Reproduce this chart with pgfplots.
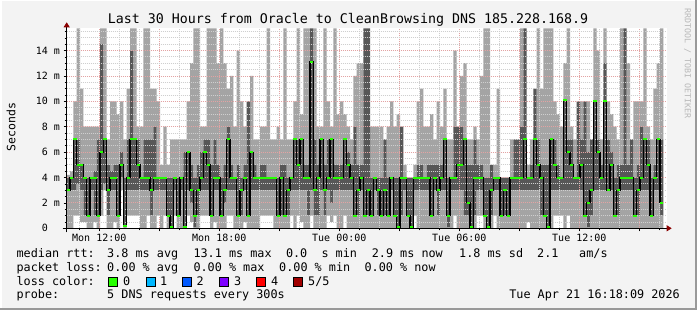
\documentclass[border=0pt]{standalone}
\usepackage{fontspec}
\setmainfont{DejaVu Sans Mono}
\usepackage{pgfplots}
\pgfplotsset{compat=1.18}
\usepackage{pgfplotstable}
\usetikzlibrary{arrows.meta}
\definecolor{bg}{HTML}{F3F3F3}
\definecolor{smokeL}{HTML}{A4A4A4}
\definecolor{smokeD}{HTML}{575757}
\definecolor{gridminor}{HTML}{CFCFCF}
\definecolor{gridmajor}{HTML}{E3A3A3}
\definecolor{medgreen}{HTML}{26FF00}
\definecolor{arrowred}{HTML}{8B0000}
\definecolor{loss1}{HTML}{00B8FF}
\definecolor{loss2}{HTML}{0059FF}
\definecolor{loss3}{HTML}{7E00FF}
\definecolor{loss4}{HTML}{FF0000}
\definecolor{loss5}{HTML}{A10000}
\newcommand\legfont{\fontsize{11.8}{14}\selectfont}

\pgfplotstableread{
i lo ilo ihi hi med
0 0 3 4 4.2 3
1 0 3 4 4.5 4
2 1 3 7 10 7
3 1 3.5 7 15.75 5
4 0.5 3 5 11 5
5 0.5 1 4 8 4
6 0 1 4 8 1
7 0 3 4 8 4
8 0.5 1 4.5 8 4
9 0 1 7 8 1
10 1 3 14.5 15.75 6
11 3 3.5 7 15.75 7
12 0 1 5 7 3
13 0 3 4.5 10 4
14 0.5 3 5 10 4
15 0 1 5 9 1
16 3 4 6 10 5
17 0 0.2 4 7 0.2
18 1 3 7 11 4
19 1 3 14 15.75 7
20 1 3 7 15.75 7
21 1 3 7 8 5
22 0 3 4 8 4
23 0 3 7 15.75 4
24 1 3 7 15.75 4
25 0 1 7 11 3
26 0 3 8 11 4
27 1 3 4 10 4
28 0 3 4 5 4
29 1 3 4 8 4
30 0 1 4 5 1
31 0 0.1 4 7 0.1
32 1 3 4 7 4
33 0 1 4 7 1
34 0 3 4 7 4
35 0 0.1 6 7 0.1
36 1 3 6 10 6
37 0.5 2 5 13 3
38 0 0.1 4 15.75 1
39 0 1 5 15.75 3
40 1 3 6 8 4
41 1 3 7 8 6
42 1 3 7 15.75 5
43 0 1 5 15.75 1
44 0.5 3 7 15.75 4
45 0 3 5 13 4
46 0 1 4 15.75 1
47 0 2 5 13 3
48 1 3 8 11 7
49 1 3 5 12 4
50 0 3 4 8 4
51 0 1 5 14 1
52 0 1 4 10 3
53 0.5 3 5 8 4
54 0 1 10 10 1
55 0 3 6 12 6
56 0 3 5 7 4
57 0 3 4 7 4
58 1 3 5 8 4
59 1 3 5 8 4
60 1 3 4 15.75 4
61 1 3 4 7 4
62 0 3 4 7 4
63 0 1 4 8 1
64 0 1 5 7 4
65 0 1 5 15.75 1
66 0 1 4 7 3
67 1 3 4 7 4
68 0 3 7 10 7
69 1 3 7 15.75 5
70 0.5 3 7 9 7
71 0 3 5 15.75 4
72 0 1 5 15.75 4
73 1 3 15.75 15.75 13.1
74 0 1 7 15.75 3
75 0 1 5 8 4
76 0 3 7 8 7
77 0 1 5 15.75 3
78 1 3 7 10 4
79 0.5 2 7 8 7
80 1 3 5 15.75 4
81 0 3 5 9 4
82 0 3 5 10 4
83 1 3 7 9 7
84 0 3 6 8 5
85 0 3 5 7 4
86 0 1 8 12 1
87 0 1 5 13 3
88 0 3 5 13 4
89 0 1 15.75 15.75 1
90 0 1 15.75 15.75 3
91 0 1 4 8 1
92 0 3 4 8 4
93 0 1 4 8 3
94 0 1 4 8 1
95 0 1 7 7 3
96 0 1 4 8 1
97 0 3 4 10 4
98 0 1 4 8 1
99 0 0.1 4 9 0.1
100 0 1 8 8 4
101 0 3 4 5 4
102 0 1 4 4 1
103 0 0.1 4 4 0.1
104 1 3 4 5 4
105 0 3 5 10 4
106 0 3 5 11 4
107 0 3 4 8 4
108 0 3 5 8 4
109 0 1 5 9 1
110 0 3 5 7 4
111 0 1 5 10 3
112 0 3 5 8 4
113 0 3 7 11 7
114 0 0.1 4 7 1
115 0 3 4 7 4
116 1 3 8 14 4
117 0 3 8 8 5
118 0 3 8 12 5
119 0 1 7 13 7
120 0 1 5 7 2
121 0 0.1 5 7 0.1
122 0 1 7 8 4
123 1 3 5 7 4
124 1 3 5 12 4
125 0 1 4 15.75 1
126 0 0.1 4 15.75 0.1
127 0 1 5 5 3
128 1 3 4 5 4
129 0 3 4 11 4
130 0 1 4 4 1
131 0 1 4 4 3
132 0 1 4 4 1
133 0 3 4 7 4
134 0 3 7 7 4
135 0 3 7 7 4
136 0 3 8 15.75 4
137 0 3 15.75 15.75 7
138 0.5 3 4 5 4
139 0 3 5 7 4
140 0 3 11 11 7
141 0 3 7 15.75 5
142 0 1 5 11 4
143 0 1 5 15.75 1
144 0 0.1 5 15.75 0.1
145 0 3 7 15.75 7
146 1 3 7 10 5
147 1 3 5 9 4
148 1 3 4 8 4
149 0 3 10.1 13 10.1
150 1 3 7 15.75 6
151 0 3 7 8 5
152 0 3 4 7 4
153 0 3 10 10 4
154 0 3 7 10 5
155 0 1 10 10 1
156 0 0.1 6 10 2
157 0 1 7 7 3
158 0 3 10 15.75 10
159 0 3 7 14 6
160 0 3 5 7 4
161 0 3 13 15.75 10
162 0 3 7 10 3
163 0 3 6 9 5
164 0 1 4 8 1
165 0 1 5 7 3
166 0 3 5 15.75 4
167 0 3 15.75 15.75 4
168 0 3 5 13 4
169 0 3 7 7 4
170 0 1 4 10 1
171 0 1 5 10 3
172 0 3 8 10 4
173 0 3 7 15.75 7
174 0 3 7 8 5
175 0 1 4 7 1
176 0 3 5 11 4
177 0 3 7 13 7
178 0 1 7 15.75 2
}\smoke

\pgfplotsset{
  rrdframe/.style={
    at={(66.7pt,81.7pt)}, anchor=south west,
    scale only axis, width=600pt, height=200pt,
    xmin=0, xmax=180, ymin=0, ymax=15.75,
  }
}

\begin{document}
\begin{tikzpicture}
\fill[bg] (0pt,0pt) rectangle (697pt,310pt);
\draw[white, line width=1.5pt] (0.75pt,0pt) -- (0.75pt,309.25pt) -- (697pt,309.25pt);
\draw[black!40, line width=2pt] (0pt,1pt) -- (696pt,1pt) -- (696pt,310pt);

% smoke
\begin{axis}[rrdframe,
  axis background/.style={fill=white},
  axis line style={draw=none}, ticks=none,
  ybar stacked, bar width=1]
\addplot[draw=none, fill=none] table[x expr=\thisrow{i}+0.5, y=lo]{\smoke};
\addplot[draw=none, fill=smokeL] table[x expr=\thisrow{i}+0.5, y expr=\thisrow{ilo}-\thisrow{lo}]{\smoke};
\addplot[draw=none, fill=smokeD] table[x expr=\thisrow{i}+0.5, y expr=\thisrow{ihi}-\thisrow{ilo}]{\smoke};
\addplot[draw=none, fill=smokeL] table[x expr=\thisrow{i}+0.5, y expr=\thisrow{hi}-\thisrow{ihi}]{\smoke};
\end{axis}

% grid, median, axes
\begin{axis}[rrdframe,
  axis lines=left,
  x axis line style={black, line width=1pt, shorten <=-4pt, shorten >=-5pt,
     -{Triangle[length=5pt,width=6pt,color=arrowred]}},
  y axis line style={black, line width=1pt, shorten <=-4pt, shorten >=-6pt,
     -{Triangle[length=5pt,width=6pt,color=arrowred]}},
  grid=both,
  minor grid style={gridminor, dash pattern=on 1pt off 1pt, line width=0.8pt},
  major grid style={gridmajor, dash pattern=on 1pt off 1pt, line width=0.8pt},
  xtick={9.78,27.78,45.78,63.78,81.78,99.78,117.78,135.78,153.78,171.78},
  xticklabels={Mon 12:00,,Mon 18:00,,Tue 00:00,,Tue 06:00,,Tue 12:00,},
  minor xtick={3.78,15.78,21.78,33.78,39.78,51.78,57.78,69.78,75.78,87.78,93.78,105.78,111.78,123.78,129.78,141.78,147.78,159.78,165.78,177.78},
  ytick={0,2,4,6,8,10,12,14},
  yticklabels={0\hphantom{\ m},2 m,4 m,6 m,8 m,10 m,12 m,14 m},
  minor ytick={0.5,1,1.5,2.5,3,3.5,4.5,5,5.5,6.5,7,7.5,8.5,9,9.5,10.5,11,11.5,12.5,13,13.5,14.5,15,15.5},
  tick align=outside, major tick length=3pt, minor tick length=2pt,
  tick style={black, line width=0.6pt},
  xticklabel style={font=\fontsize{10}{12}\selectfont, inner sep=0pt, anchor=north, yshift=-3pt},
  yticklabel style={font=\fontsize{10}{12}\selectfont, inner sep=0pt, anchor=east, xshift=-3.5pt},
  clip=true]
\addplot[const plot mark mid, black, line width=1.2pt] table[x expr=\thisrow{i}+0.5, y=med]{\smoke};
\addplot[only marks, mark=-, mark size=1.7pt, mark options={medgreen, line width=2pt}] table[x expr=\thisrow{i}+0.5, y=med]{\smoke};
\end{axis}

% title, labels
\node[anchor=base, font=\fontsize{13.3}{16}\selectfont] at (348pt,286.5pt) {Last 30 Hours from Oracle to CleanBrowsing DNS 185.228.168.9};
\node[rotate=90, font=\fontsize{11.5}{14}\selectfont] at (11pt,183pt) {Seconds};
\node[rotate=-90, anchor=west, font=\fontsize{8.3}{10}\selectfont, text=black!28] at (687.5pt,305pt) {RRDTOOL / TOBI OETIKER};

% legend rows
\begin{scope}[every node/.style={anchor=base west, inner sep=0pt, font=\legfont}]
\node at (16.4pt,52.5pt) {median rtt:};
\node at (107pt,52.5pt) {3.8 ms avg};
\node at (193.3pt,52.5pt) {13.1 ms max};
\node at (285.8pt,52.5pt) {0.0\ \ s min};
\node at (371.6pt,52.5pt) {2.9 ms now};
\node at (459pt,52.5pt) {1.8 ms sd};
\node at (537pt,52.5pt) {2.1};
\node at (579pt,52.5pt) {am/s};
\node at (16.4pt,38.5pt) {packet loss:};
\node at (107pt,38.5pt) {0.00 \% avg};
\node at (193.3pt,38.5pt) {0.00 \% max};
\node at (279pt,38.5pt) {0.00 \% min};
\node at (364.4pt,38.5pt) {0.00 \% now};
\node at (16.4pt,24.5pt) {loss color:};
\node at (123pt,24.5pt) {0};
\node at (160pt,24.5pt) {1};
\node at (196.4pt,24.5pt) {2};
\node at (234pt,24.5pt) {3};
\node at (271pt,24.5pt) {4};
\node at (308pt,24.5pt) {5/5};
\node at (16.4pt,11pt) {probe:};
\node at (107pt,11pt) {5 DNS requests every 300s};
\node[anchor=base east] at (680pt,11pt) {Tue Apr 21 16:18:09 2026};
\end{scope}
\filldraw[fill=medgreen, draw=black, line width=0.6pt] (108pt,23.5pt) rectangle (117pt,32.5pt);
\filldraw[fill=loss1, draw=black, line width=0.6pt] (145.8pt,23.5pt) rectangle (154.8pt,32.5pt);
\filldraw[fill=loss2, draw=black, line width=0.6pt] (182.2pt,23.5pt) rectangle (191.2pt,32.5pt);
\filldraw[fill=loss3, draw=black, line width=0.6pt] (219.1pt,23.5pt) rectangle (228.1pt,32.5pt);
\filldraw[fill=loss4, draw=black, line width=0.6pt] (256.4pt,23.5pt) rectangle (265.4pt,32.5pt);
\filldraw[fill=loss5, draw=black, line width=0.6pt] (293.3pt,23.5pt) rectangle (302.3pt,32.5pt);

\pgfresetboundingbox
\useasboundingbox (0pt,0pt) rectangle (697pt,310pt);
\end{tikzpicture}
\end{document}
